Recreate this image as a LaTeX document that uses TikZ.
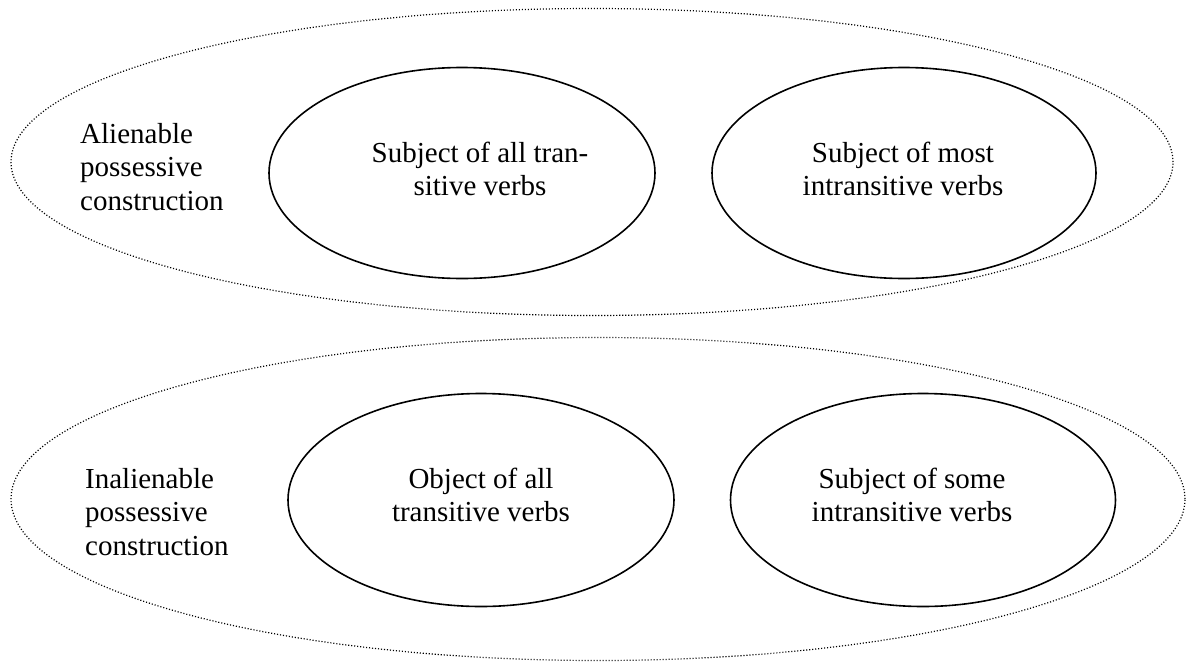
\documentclass[tikz,border=0pt]{standalone}
\usepackage{fontspec}
\setmainfont{Liberation Serif}
\usetikzlibrary{shapes.geometric}
\begin{document}
\begin{tikzpicture}[x=1pt,y=-1pt,
  outerell/.style={draw, ellipse, inner sep=0pt, line width=1.2pt, dash pattern=on 1.1pt off 1.9pt},
  innerell/.style={draw, ellipse, inner sep=0pt, line width=1.6pt},
  txt/.style={inner sep=0pt, align=center, font=\fontsize{29}{33.5}\selectfont},
  lbl/.style={anchor=north west, inner sep=0pt, align=left, font=\fontsize{29}{33.5}\selectfont}]
\useasboundingbox (0,0) rectangle (1187,662);
% outer dotted ellipses
\node[outerell, minimum width=1162pt, minimum height=307pt] (topouter) at (592,162) {};
\node[outerell, minimum width=1174pt, minimum height=323pt] (botouter) at (598,499) {};
% inner ellipses
\node[innerell, minimum width=386pt, minimum height=211pt] (subjtr) at (462,173) {};
\node[innerell, minimum width=384pt, minimum height=211pt] (subjmost) at (904,173) {};
\node[innerell, minimum width=386pt, minimum height=213pt] (objtr) at (481,500) {};
\node[innerell, minimum width=385pt, minimum height=213pt] (subjsome) at (923,500) {};
% texts in the inner ellipses
\node[txt] (tsubjtr) at ([xshift=18pt,yshift=4pt]subjtr.center) {Subject of all tran-\\sitive verbs};
\node[txt] (tsubjmost) at ([xshift=-1pt,yshift=4pt]subjmost.center) {Subject of most\\intransitive verbs};
\node[txt] (tobjtr) at ([yshift=5pt]objtr.center) {Object of all\\transitive verbs};
\node[txt] (tsubjsome) at ([xshift=-11pt,yshift=5pt]subjsome.center) {Subject of some\\intransitive verbs};
% labels
\node[lbl] (alien) at (80,123) {Alienable\\possessive\\construction};
\node[lbl] (inalien) at (85,468) {Inalienable\\possessive\\construction};
\end{tikzpicture}
\end{document}
